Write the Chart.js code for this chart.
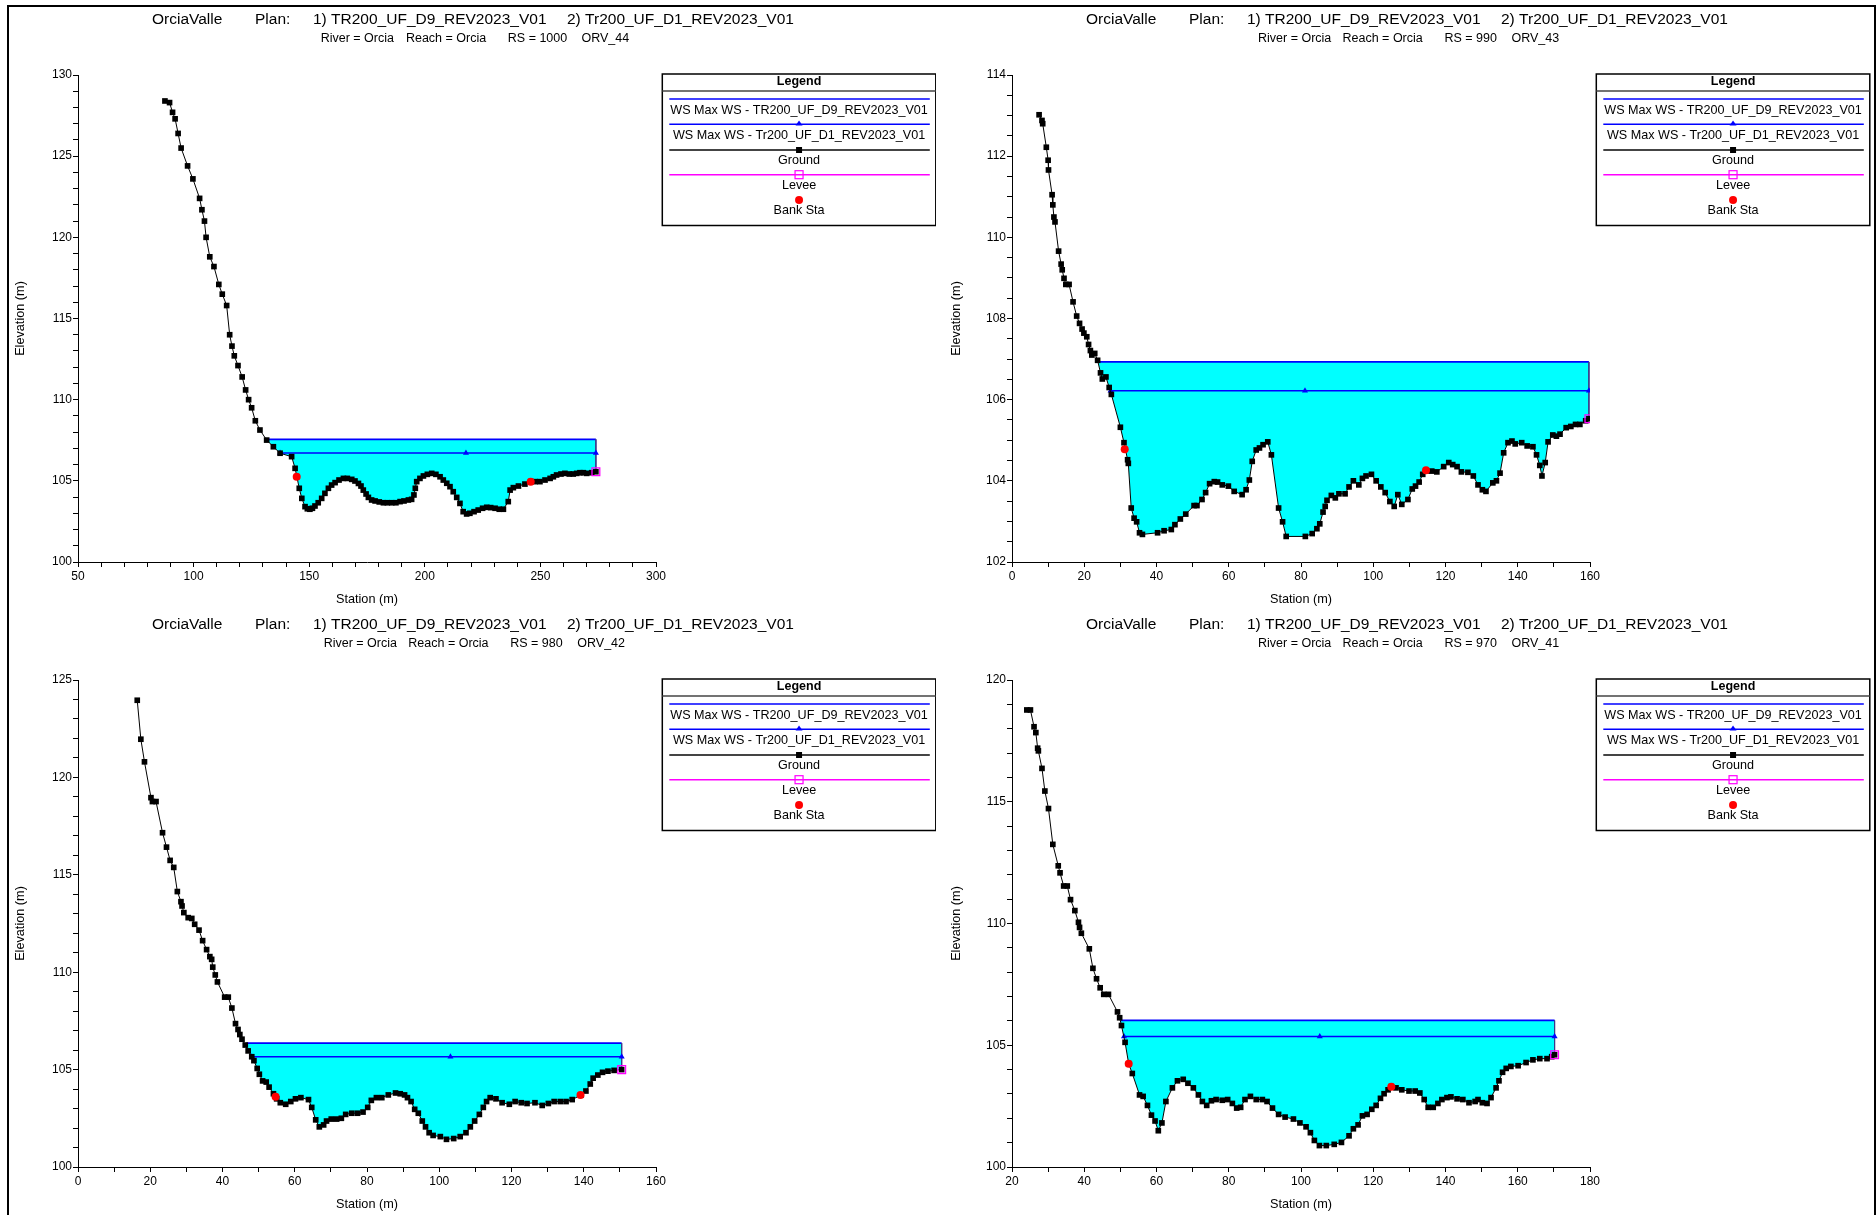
<!DOCTYPE html>
<html>
<head>
<meta charset="utf-8">
<title>OrciaValle - cross sections</title>
<script src="https://cdn.jsdelivr.net/npm/chart.js@4.4.1/dist/chart.umd.min.js"></script>
<style>
    html, body { margin: 0; padding: 0; background: #fff; overflow: hidden; }
    #page { position: relative; width: 1876px; height: 1215px; background: #fff; }
    .panel { position: absolute; }
    #frame {
        position: absolute; left: 7px; top: 5px; width: 1869px; height: 1215px;
        border-left: 2px solid #000; border-top: 2px solid #000; border-right: 2px solid #000;
        box-sizing: border-box; pointer-events: none;
    }
</style>
</head>
<body>
<div id="page">
    <canvas id="xs1" class="panel" width="936" height="607" style="left:0;top:0"></canvas>
    <canvas id="xs2" class="panel" width="940" height="607" style="left:936px;top:0"></canvas>
    <canvas id="xs3" class="panel" width="936" height="607" style="left:0;top:605px"></canvas>
    <canvas id="xs4" class="panel" width="940" height="607" style="left:936px;top:605px"></canvas>
    <div id="frame"></div>
</div>
<script>
// ---- RS 1000 (ORV_44) ----
const sta1 = [87.6, 89.6, 90.9, 92.0, 93.3, 94.6, 97.4, 99.7, 102.6, 103.6, 104.7, 105.4, 107.0, 108.8, 110.9, 112.4,
    114.3, 115.6, 116.6, 117.6, 119.2, 121.0, 122.5, 123.8, 125.1, 126.7, 128.7, 131.6, 134.5, 137.4, 142.4, 143.9,
    145.7, 146.8, 148.2, 149.2, 150.3, 151.4, 152.5, 153.9, 155.4, 156.8, 158.3, 159.7, 161.2, 162.9, 164.8, 166.5,
    168.4, 169.8, 171.3, 172.4, 173.4, 174.6, 175.6, 177.0, 178.5, 180.3, 182.1, 183.8, 185.7, 187.5, 189.3, 191.0,
    192.9, 194.3, 195.3, 195.9, 196.5, 197.9, 199.4, 201.1, 203.0, 204.8, 206.6, 208.0, 209.5, 210.9, 212.3, 213.8,
    215.2, 216.6, 218.1, 219.5, 221.3, 223.1, 225.0, 226.8, 228.5, 230.4, 232.2, 234.0, 236.1, 236.9, 238.3, 240.5,
    243.3, 245.8, 247.7, 249.8, 252.0, 254.2, 255.6, 257.0, 258.9, 260.6, 262.5, 264.2, 265.7, 267.1, 268.6, 270.0,
    272.2, 274.0];
const elev1 = [128.4, 128.3, 127.7, 127.3, 126.4, 125.5, 124.4, 123.6, 122.4, 121.7, 121.0, 120.0, 118.8, 118.2, 117.1,
    116.5, 115.8, 114.0, 113.3, 112.7, 112.1, 111.4, 110.6, 110.0, 109.5, 108.7, 108.13, 107.51, 107.1, 106.7, 106.49,
    105.77, 104.54, 103.92, 103.41, 103.28, 103.25, 103.31, 103.45, 103.65, 103.92, 104.23, 104.54, 104.74, 104.89,
    105.05, 105.15, 105.15, 105.09, 104.99, 104.84, 104.68, 104.43, 104.19, 103.98, 103.82, 103.76, 103.7, 103.65,
    103.65, 103.65, 103.65, 103.72, 103.76, 103.82, 103.86, 104.13, 104.54, 104.95, 105.15, 105.3, 105.4, 105.46,
    105.4, 105.25, 105.05, 104.85, 104.64, 104.33, 103.98, 103.61, 103.1, 102.96, 103.0, 103.1, 103.2, 103.31, 103.37,
    103.35, 103.31, 103.25, 103.25, 103.72, 104.43, 104.58, 104.68, 104.8, 104.95, 104.95, 104.95, 105.05, 105.15,
    105.25, 105.36, 105.42, 105.46, 105.42, 105.42, 105.46, 105.5, 105.5, 105.46, 105.5, 105.56];
const bankSta1 = [144.6, 245.8];
const bankElev1 = [105.25, 104.95];
const leveeSta1 = [274.0];
const leveeElev1 = [105.56];
const wsD9Sta1 = [131.6, 274.0, 274.0];
const wsD9Elev1 = [107.56, 107.56, 105.56];
const wsD1Sta1 = [137.4, 217.8, 274.0];
const wsD1Elev1 = 106.72;
const xAxis1 = [50, 300, 10, 50];
const yAxis1 = [100, 130, 1, 5];

// ---- RS 990 (ORV_43) ----
const sta2 = [7.5, 8.3, 8.5, 9.5, 10.0, 10.1, 11.1, 11.3, 11.6, 11.9, 12.9, 13.6, 13.9, 14.4, 14.9, 15.8, 16.9, 17.9,
    18.7, 19.4, 19.9, 20.7, 21.2, 21.7, 22.1, 22.9, 23.7, 24.5, 25.0, 26.0, 26.9, 27.5, 30.0, 31.0, 32.0, 32.2, 33.0,
    33.8, 34.5, 35.3, 36.1, 40.3, 42.1, 44.1, 45.1, 46.6, 48.1, 50.4, 51.2, 52.6, 53.6, 54.7, 56.0, 56.9, 58.2, 59.9,
    61.5, 63.7, 64.8, 65.7, 66.5, 67.6, 68.5, 69.5, 70.8, 71.8, 73.8, 74.9, 75.9, 81.2, 83.1, 84.4, 85.2, 86.1, 86.7,
    87.2, 88.4, 89.5, 90.5, 92.2, 93.3, 94.5, 96.0, 97.0, 98.0, 99.5, 100.8, 102.1, 103.3, 104.6, 105.8, 106.8, 107.9,
    109.6, 110.8, 111.7, 112.7, 113.7, 114.6, 116.2, 117.6, 119.5, 120.9, 122.0, 123.2, 124.4, 126.2, 127.7, 129.0,
    130.2, 131.2, 133.1, 134.1, 135.1, 136.1, 137.3, 138.4, 139.3, 141.1, 142.6, 144.2, 145.2, 146.1, 146.7, 147.6,
    148.4, 149.7, 150.7, 151.7, 153.4, 154.7, 156.0, 157.2, 158.8, 159.7];
const elev2 = [113.02, 112.88, 112.8, 112.22, 111.9, 111.66, 111.05, 110.8, 110.5, 110.38, 109.66, 109.34, 109.2, 108.99,
    108.84, 108.84, 108.41, 108.06, 107.88, 107.74, 107.64, 107.55, 107.36, 107.21, 107.1, 107.14, 106.97, 106.66,
    106.51, 106.56, 106.3, 106.13, 105.32, 104.94, 104.52, 104.43, 103.33, 103.08, 102.99, 102.72, 102.68, 102.72,
    102.77, 102.8, 102.92, 103.06, 103.18, 103.39, 103.39, 103.54, 103.71, 103.93, 103.98, 103.97, 103.9, 103.87,
    103.74, 103.66, 103.78, 104.02, 104.48, 104.76, 104.81, 104.89, 104.96, 104.64, 103.33, 102.99, 102.63, 102.63,
    102.7, 102.82, 102.94, 103.23, 103.37, 103.52, 103.64, 103.58, 103.68, 103.68, 103.85, 104.0, 103.9, 104.06,
    104.12, 104.16, 104.0, 103.85, 103.71, 103.49, 103.37, 103.66, 103.42, 103.54, 103.8, 103.87, 103.97, 104.16,
    104.24, 104.24, 104.22, 104.35, 104.45, 104.4, 104.35, 104.22, 104.21, 104.12, 103.9, 103.78, 103.74, 103.95,
    104.0, 104.19, 104.69, 104.94, 104.98, 104.91, 104.94, 104.86, 104.84, 104.64, 104.38, 104.12, 104.45, 104.96,
    105.13, 105.1, 105.15, 105.31, 105.34, 105.39, 105.39, 105.48, 105.53];
const bankSta2 = [31.2, 114.6];
const bankElev2 = [104.78, 104.26];
const leveeSta2 = [159.7];
const leveeElev2 = [105.53];
const wsD9Sta2 = [23.8, 159.7, 159.7];
const wsD9Elev2 = [106.93, 106.93, 105.53];
const wsD1Sta2 = [27.3, 81.1, 159.7];
const wsD1Elev2 = 106.22;
const xAxis2 = [0, 160, 10, 20];
const yAxis2 = [102, 114, 0.5, 2];

// ---- RS 980 (ORV_42) ----
const sta3 = [16.4, 17.4, 18.4, 20.2, 20.6, 21.6, 23.4, 24.5, 25.5, 26.5, 27.5, 28.5, 28.8, 29.3, 30.5, 31.5, 32.3,
    33.5, 34.5, 35.6, 36.5, 37.0, 37.3, 38.0, 38.6, 40.6, 41.6, 42.6, 43.6, 44.3, 44.8, 45.4, 46.3, 47.1, 48.1, 48.7,
    49.6, 50.2, 51.1, 52.1, 52.9, 54.1, 55.0, 56.0, 57.5, 58.9, 60.2, 61.7, 63.8, 64.7, 65.8, 66.8, 68.0, 68.8, 70.1,
    71.6, 72.9, 74.1, 75.8, 77.4, 78.9, 80.2, 81.2, 82.6, 84.1, 85.9, 87.9, 89.2, 90.4, 91.2, 92.2, 93.2, 94.2, 95.3,
    96.2, 97.2, 98.3, 100.3, 102.0, 104.0, 105.8, 107.4, 108.6, 109.8, 111.1, 112.2, 113.1, 114.1, 115.7, 117.4, 119.4,
    121.0, 122.7, 124.3, 126.5, 128.5, 130.2, 131.8, 133.5, 135.1, 136.8, 139.3, 140.6, 141.8, 142.6, 143.9, 145.2,
    146.7, 148.4, 150.5];
const elev3 = [123.96, 121.96, 120.8, 118.96, 118.76, 118.76, 117.16, 116.42, 115.74, 115.38, 114.14, 113.62, 113.4,
    113.06, 112.8, 112.76, 112.46, 112.16, 111.62, 111.16, 110.8, 110.66, 110.26, 109.86, 109.5, 108.72, 108.72, 108.16,
    107.36, 107.06, 106.8, 106.56, 106.26, 105.96, 105.66, 105.46, 105.06, 104.76, 104.42, 104.36, 104.1, 103.76, 103.5,
    103.3, 103.22, 103.36, 103.5, 103.56, 103.46, 103.06, 102.42, 102.06, 102.16, 102.36, 102.46, 102.46, 102.5, 102.7,
    102.76, 102.76, 102.82, 103.06, 103.42, 103.56, 103.56, 103.7, 103.8, 103.76, 103.7, 103.56, 103.36, 102.96, 102.76,
    102.36, 102.06, 101.76, 101.62, 101.56, 101.42, 101.46, 101.56, 101.76, 102.06, 102.36, 102.7, 103.06, 103.36,
    103.56, 103.5, 103.3, 103.22, 103.36, 103.3, 103.26, 103.3, 103.16, 103.26, 103.36, 103.36, 103.36, 103.46, 103.7,
    103.9, 104.26, 104.56, 104.72, 104.86, 104.92, 104.96, 105.0];
const bankSta3 = [54.7, 139.1];
const bankElev3 = [103.6, 103.7];
const leveeSta3 = [150.5];
const leveeElev3 = [105.0];
const wsD9Sta3 = [46.6, 150.5, 150.5];
const wsD9Elev3 = [106.36, 106.36, 105.0];
const wsD1Sta3 = [48.1, 103.1, 150.5];
const wsD1Elev3 = 105.66;
const xAxis3 = [0, 160, 10, 20];
const yAxis3 = [100, 125, 1, 5];

// ---- RS 970 (ORV_41) ----
const sta4 = [24.1, 25.1, 26.1, 26.6, 27.1, 27.3, 28.3, 29.1, 30.1, 31.3, 32.8, 33.3, 34.3, 35.3, 36.2, 37.4, 38.4,
    38.7, 39.2, 41.4, 42.4, 43.4, 44.4, 45.4, 46.7, 49.2, 49.8, 50.3, 51.3, 52.3, 53.3, 55.3, 56.3, 57.5, 58.6, 59.6,
    60.5, 61.5, 62.6, 64.4, 65.8, 67.4, 68.7, 70.2, 71.6, 72.7, 73.9, 75.2, 76.5, 78.2, 79.7, 81.0, 82.2, 83.3, 84.5,
    86.0, 87.6, 89.3, 90.6, 92.1, 93.8, 95.6, 97.9, 99.7, 101.4, 102.6, 103.7, 105.1, 107.0, 109.2, 111.2, 113.3,
    114.5, 115.8, 117.0, 118.3, 119.6, 120.8, 122.0, 123.0, 124.1, 125.0, 126.3, 127.9, 129.9, 131.6, 132.9, 134.1,
    135.2, 136.6, 137.9, 139.0, 140.4, 141.5, 143.2, 144.8, 146.5, 148.2, 149.0, 150.2, 151.5, 152.6, 154.0, 154.8,
    155.8, 156.8, 158.1, 160.1, 162.3, 164.2, 166.1, 168.1, 169.4, 170.2];
const elev4 = [118.77, 118.77, 118.08, 117.84, 117.2, 117.09, 116.37, 115.44, 114.72, 113.25, 112.37, 112.08, 111.54,
    111.54, 110.98, 110.53, 110.05, 109.84, 109.6, 108.96, 108.16, 107.73, 107.36, 107.09, 107.09, 106.37, 106.13,
    105.81, 105.12, 104.24, 103.84, 102.96, 102.9, 102.53, 102.13, 101.89, 101.49, 101.81, 102.69, 103.25, 103.54,
    103.6, 103.44, 103.25, 102.96, 102.69, 102.53, 102.72, 102.77, 102.74, 102.77, 102.61, 102.42, 102.45, 102.77,
    102.9, 102.77, 102.77, 102.69, 102.42, 102.16, 102.05, 101.97, 101.81, 101.65, 101.41, 101.09, 100.88, 100.88,
    100.93, 101.01, 101.28, 101.57, 101.73, 102.1, 102.16, 102.37, 102.53, 102.82, 103.01, 103.17, 103.3, 103.25,
    103.17, 103.12, 103.12, 103.04, 102.77, 102.45, 102.45, 102.61, 102.77, 102.85, 102.88, 102.8, 102.77, 102.64,
    102.69, 102.77, 102.64, 102.61, 102.85, 103.25, 103.54, 103.89, 104.05, 104.13, 104.16, 104.29, 104.4, 104.45,
    104.45, 104.53, 104.61];
const bankSta4 = [52.3, 125.0];
const bankElev4 = [104.24, 103.3];
const leveeSta4 = [170.2];
const leveeElev4 = [104.61];
const wsD9Sta4 = [50.1, 170.2, 170.2];
const wsD9Elev4 = [106.02, 106.02, 104.61];
const wsD1Sta4 = [51.0, 105.2, 170.2];
const wsD1Elev4 = 105.36;
const xAxis4 = [20, 180, 10, 20];
const yAxis4 = [100, 120, 1, 5];

const rsLabels = ['1000', '990', '980', '970'];
const orvLabels = ['ORV_44', 'ORV_43', 'ORV_42', 'ORV_41'];
const planLabels = ['1) TR200_UF_D9_REV2023_V01', '2) Tr200_UF_D1_REV2023_V01'];
const legendLabels = ['WS Max WS - TR200_UF_D9_REV2023_V01', 'WS Max WS - Tr200_UF_D1_REV2023_V01', 'Ground', 'Levee', 'Bank Sta'];

const FONT = '"Liberation Sans", Arial, Helvetica, sans-serif';
const WS_BLUE = '#0000ff';
const WATER = '#00ffff';
const LEVEE = '#ff00ff';
const BANK = '#ff0000';

function pts(xs, ys) {
    return xs.map((x, i) => ({ x: x, y: Array.isArray(ys) ? ys[i] : ys }));
}

function hline(ctx, x0, x1, y) {
    ctx.beginPath();
    ctx.moveTo(x0, y);
    ctx.lineTo(x1, y);
    ctx.stroke();
}

// title + subtitle drawn as separate text runs like the HEC-RAS header
function headerPlugin(ox, subX, rs, orv) {
    return {
        id: 'rasHeader',
        afterDraw(chart) {
            const ctx = chart.ctx;
            ctx.save();
            ctx.fillStyle = '#000';
            ctx.textAlign = 'left';
            ctx.textBaseline = 'middle';
            ctx.font = '15.5px ' + FONT;
            ctx.fillText('OrciaValle', 152 + ox, 19.5);
            ctx.fillText('Plan:', 255 + ox, 19.5);
            ctx.fillText(planLabels[0], 313 + ox, 19.5);
            ctx.fillText(planLabels[1], 567 + ox, 19.5);
            ctx.font = '12.5px ' + FONT;
            ctx.fillText('River = Orcia', subX[0], 39);
            ctx.fillText('Reach = Orcia', subX[1], 39);
            ctx.fillText('RS = ' + rs, subX[2], 39);
            ctx.fillText(orv, subX[3], 39);
            ctx.restore();
        }
    };
}

function legendPlugin(x0) {
    return {
        id: 'rasLegend',
        afterDraw(chart) {
            const ctx = chart.ctx;
            const y0 = 74, w = 273.5, h = 151.5;
            const cx = x0 + w / 2, lx0 = x0 + 7, lx1 = x0 + w - 6;
            ctx.save();
            ctx.fillStyle = '#fff';
            ctx.fillRect(x0, y0, w, h);
            ctx.strokeStyle = '#000';
            ctx.lineWidth = 1.5;
            ctx.strokeRect(x0, y0, w, h);
            ctx.strokeStyle = '#444';
            ctx.lineWidth = 1.5;
            hline(ctx, x0, x0 + w, y0 + 17);

            ctx.fillStyle = '#000';
            ctx.textAlign = 'center';
            ctx.textBaseline = 'middle';
            ctx.font = 'bold 12.5px ' + FONT;
            ctx.fillText('Legend', cx, y0 + 8);

            // WS D9 - plain blue line
            ctx.strokeStyle = WS_BLUE;
            ctx.lineWidth = 1.5;
            hline(ctx, lx0, lx1, y0 + 25);
            // WS D1 - blue line with triangle
            hline(ctx, lx0, lx1, y0 + 50.3);
            ctx.fillStyle = WS_BLUE;
            ctx.beginPath();
            ctx.moveTo(cx, y0 + 46.5);
            ctx.lineTo(cx + 3.5, y0 + 51.5);
            ctx.lineTo(cx - 3.5, y0 + 51.5);
            ctx.closePath();
            ctx.fill();
            // Ground - dark line with black square
            ctx.strokeStyle = '#444';
            ctx.lineWidth = 2;
            hline(ctx, lx0, lx1, y0 + 76);
            ctx.fillStyle = '#000';
            ctx.fillRect(cx - 3, y0 + 73, 6, 6);
            // Levee - magenta line with open square
            ctx.strokeStyle = LEVEE;
            ctx.lineWidth = 1.5;
            hline(ctx, lx0, lx1, y0 + 100.7);
            ctx.lineWidth = 1.2;
            ctx.strokeRect(cx - 4, y0 + 96.7, 8, 8);
            // Bank Sta - red dot
            ctx.fillStyle = BANK;
            ctx.beginPath();
            ctx.arc(cx, y0 + 126, 4, 0, Math.PI * 2);
            ctx.fill();

            ctx.fillStyle = '#000';
            ctx.font = '12.6px ' + FONT;
            ctx.fillText(legendLabels[0], cx, y0 + 37);
            ctx.fillText(legendLabels[1], cx, y0 + 62);
            ctx.fillText(legendLabels[2], cx, y0 + 87);
            ctx.fillText(legendLabels[3], cx, y0 + 111.5);
            ctx.fillText(legendLabels[4], cx, y0 + 137);
            ctx.restore();
        }
    };
}

function axisOptions(range, pad, extra) {
    const [min, max, minor, major] = range;
    return Object.assign({
        type: 'linear',
        min: min,
        max: max,
        border: { display: true, color: '#000', width: 1 },
        grid: { drawOnChartArea: false, drawTicks: true, tickLength: 5, tickColor: '#000', tickWidth: 1 },
        ticks: {
            stepSize: minor,
            autoSkip: false,
            maxRotation: 0,
            padding: pad,
            color: '#000',
            font: { family: FONT, size: 12 },
            callback: (v) => (Math.abs(v / major - Math.round(v / major)) < 1e-6 ? String(v) : '')
        }
    }, extra);
}

function buildPanel(p) {
    const ctx = document.getElementById(p.id);
    const W = ctx.width, H = ctx.height;
    const plotLeft = 78 + p.ox, plotRight = 656 + p.ox, plotBottom = 562;

    new Chart(ctx, {
        type: 'line',
        data: {
            datasets: [
                {
                    label: 'Levee',
                    data: pts(p.leveeSta, p.leveeElev),
                    showLine: false,
                    pointStyle: 'rect',
                    pointRadius: 5.5,
                    pointBorderColor: LEVEE,
                    pointBackgroundColor: 'rgba(0,0,0,0)',
                    pointBorderWidth: 1.3
                },
                {
                    label: 'Bank Sta',
                    data: pts(p.bankSta, p.bankElev),
                    showLine: false,
                    pointStyle: 'circle',
                    pointRadius: 4,
                    pointBackgroundColor: BANK,
                    pointBorderColor: BANK,
                    pointBorderWidth: 0
                },
                {
                    label: 'Ground',
                    data: pts(p.sta, p.elev),
                    borderColor: '#000',
                    borderWidth: 1,
                    pointStyle: 'rect',
                    pointRadius: 4,
                    pointBackgroundColor: '#000',
                    pointBorderWidth: 0
                },
                {
                    label: 'WS D1',
                    data: pts(p.d1Sta, p.d1),
                    borderColor: WS_BLUE,
                    borderWidth: 1.5,
                    pointStyle: 'triangle',
                    pointRadius: 3.5,
                    pointBackgroundColor: WS_BLUE,
                    pointBorderColor: WS_BLUE,
                    pointBorderWidth: 0
                },
                {
                    label: 'WS D9',
                    data: pts(p.d9Sta, p.d9),
                    borderColor: WS_BLUE,
                    borderWidth: 1.8,
                    pointRadius: 0,
                    // vertical closing edge at the right bank is a thin line
                    segment: {
                        borderWidth: (c) => (c.p0.parsed.x === c.p1.parsed.x ? 1 : 1.8),
                        borderColor: (c) => (c.p0.parsed.x === c.p1.parsed.x ? '#3a3a8a' : WS_BLUE)
                    },
                    fill: { target: 2, above: WATER, below: 'rgba(0,0,0,0)' }
                }
            ]
        },
        options: {
            responsive: false,
            animation: false,
            devicePixelRatio: 1,
            layout: { padding: { left: 0, top: 75, right: W - plotRight, bottom: 0 } },
            elements: { line: { tension: 0 } },
            plugins: {
                legend: { display: false },
                tooltip: { enabled: false },
                filler: { drawTime: 'beforeDatasetsDraw' }
            },
            scales: {
                x: axisOptions(p.xAxis, 2, {
                    afterFit: (scale) => { scale.height = H - plotBottom; },
                    title: { display: true, text: 'Station (m)', color: '#000', font: { family: FONT, size: 12.7 }, padding: { top: 0, bottom: 0 } }
                }),
                y: axisOptions(p.yAxis, 1, {
                    afterFit: (scale) => { scale.width = plotLeft; },
                    title: { display: true, text: 'Elevation (m)', color: '#000', font: { family: FONT, size: 12.7 }, padding: { top: 13, bottom: 0 } }
                })
            }
        },
        plugins: [headerPlugin(p.ox, p.subX, p.rs, p.orv), legendPlugin(662.3 + p.ox)]
    });
}

buildPanel({ id: 'xs1', ox: 0, subX: [320.7, 405.9, 507.8, 581.5], rs: rsLabels[0], orv: orvLabels[0],
    sta: sta1, elev: elev1, bankSta: bankSta1, bankElev: bankElev1, leveeSta: leveeSta1, leveeElev: leveeElev1,
    d9Sta: wsD9Sta1, d9: wsD9Elev1, d1Sta: wsD1Sta1, d1: wsD1Elev1, xAxis: xAxis1, yAxis: yAxis1 });
buildPanel({ id: 'xs2', ox: -2, subX: [322, 406.5, 508.4, 575.5], rs: rsLabels[1], orv: orvLabels[1],
    sta: sta2, elev: elev2, bankSta: bankSta2, bankElev: bankElev2, leveeSta: leveeSta2, leveeElev: leveeElev2,
    d9Sta: wsD9Sta2, d9: wsD9Elev2, d1Sta: wsD1Sta2, d1: wsD1Elev2, xAxis: xAxis2, yAxis: yAxis2 });
buildPanel({ id: 'xs3', ox: 0, subX: [323.7, 408.3, 510.2, 577.3], rs: rsLabels[2], orv: orvLabels[2],
    sta: sta3, elev: elev3, bankSta: bankSta3, bankElev: bankElev3, leveeSta: leveeSta3, leveeElev: leveeElev3,
    d9Sta: wsD9Sta3, d9: wsD9Elev3, d1Sta: wsD1Sta3, d1: wsD1Elev3, xAxis: xAxis3, yAxis: yAxis3 });
buildPanel({ id: 'xs4', ox: -2, subX: [322, 406.5, 508.4, 575.5], rs: rsLabels[3], orv: orvLabels[3],
    sta: sta4, elev: elev4, bankSta: bankSta4, bankElev: bankElev4, leveeSta: leveeSta4, leveeElev: leveeElev4,
    d9Sta: wsD9Sta4, d9: wsD9Elev4, d1Sta: wsD1Sta4, d1: wsD1Elev4, xAxis: xAxis4, yAxis: yAxis4 });
</script>
</body>
</html>
